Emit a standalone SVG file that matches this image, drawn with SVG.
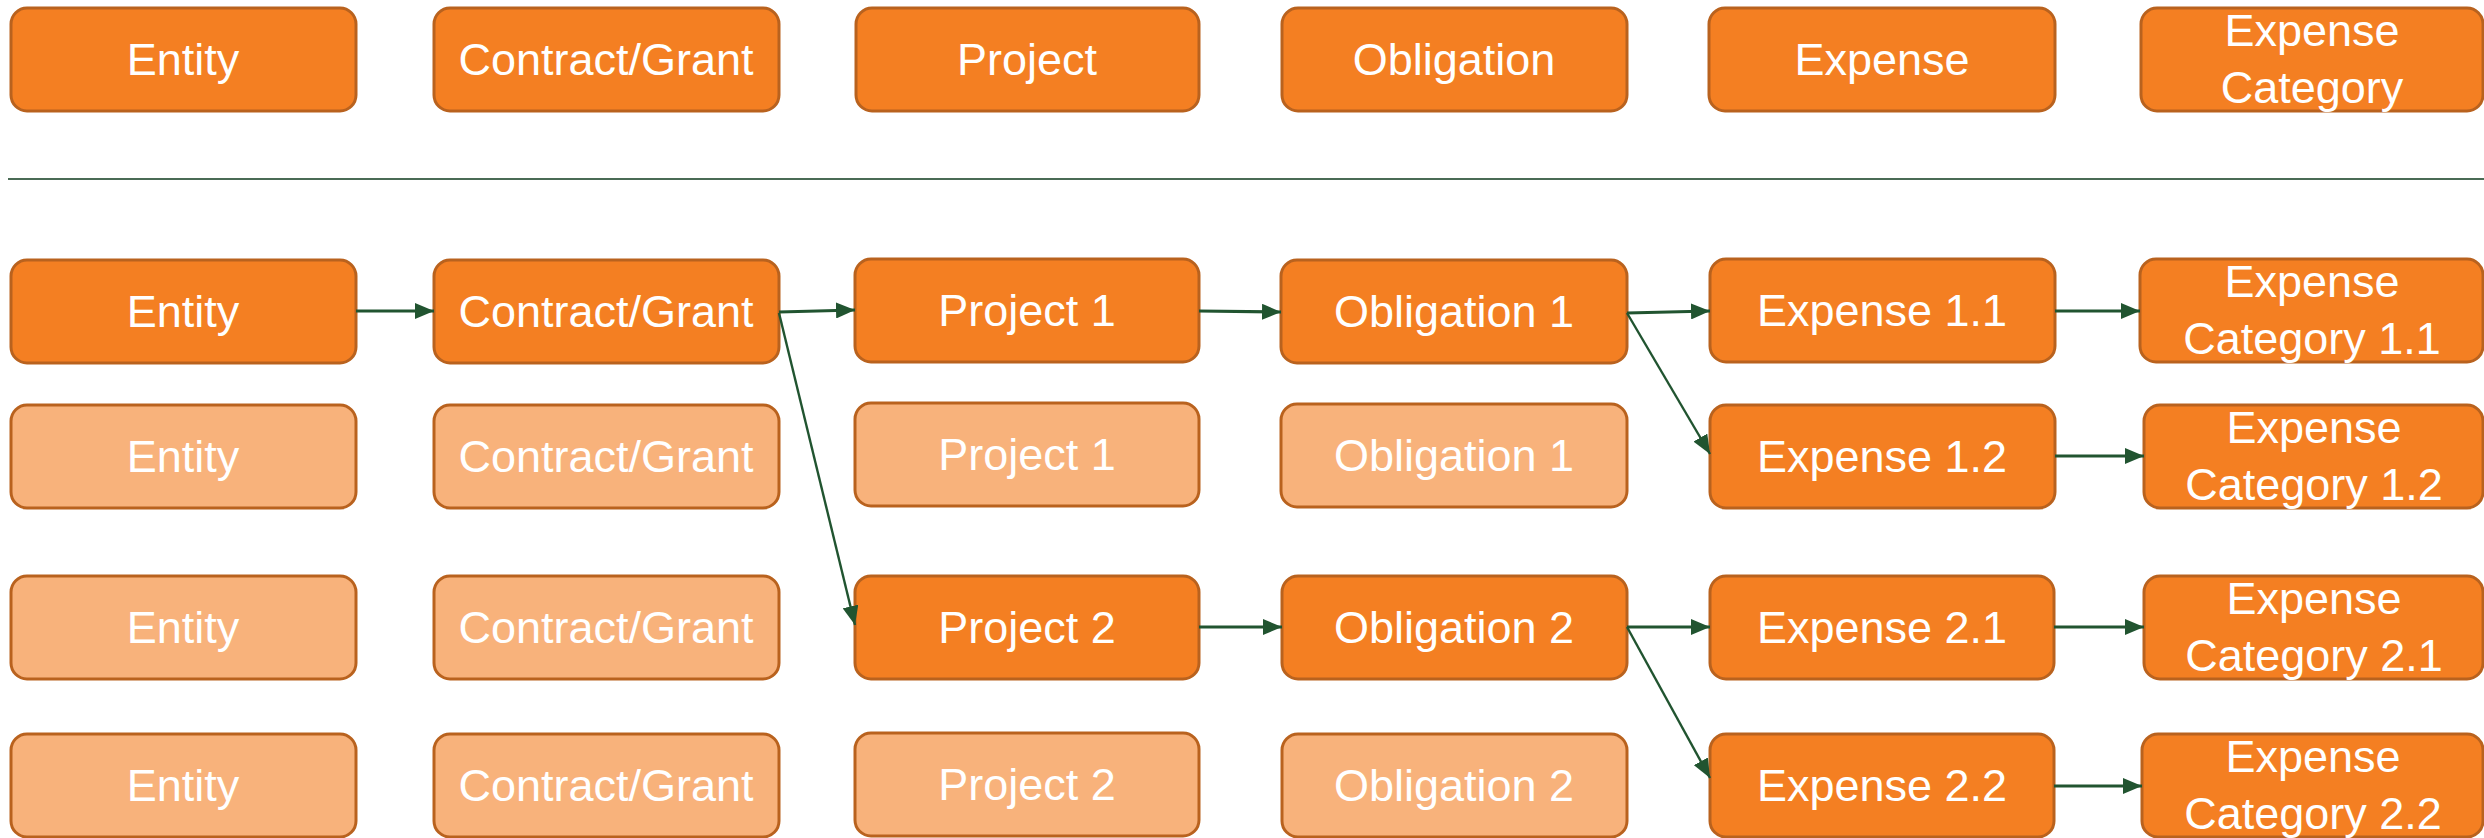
<svg xmlns="http://www.w3.org/2000/svg" width="2484" height="838" viewBox="0 0 2484 838">
<style>
.b{fill:#F47F22;stroke:#B9621E;stroke-width:3}
.f{fill:#F8B27B;stroke:#B9621E;stroke-width:3}
text{font-family:"Liberation Sans",Arial,sans-serif;font-size:45px;fill:#FFFFFF;text-anchor:middle}
.c{stroke:#215430;stroke-width:3.2;fill:none;marker-end:url(#ah)}
.d{stroke:#215430;stroke-width:2.4;fill:none;marker-end:url(#ah)}
</style>
<defs>
<marker id="ah" viewBox="0 0 10 10" refX="10" refY="5" markerWidth="19" markerHeight="16" markerUnits="userSpaceOnUse" orient="auto" preserveAspectRatio="none">
<path d="M0,0 L10,5 L0,10 z" fill="#215430"/>
</marker>
</defs>
<rect width="2484" height="838" fill="#FFFFFF"/>
<!-- header row -->
<g id="h-entity"><rect class="b" x="11" y="8" width="345" height="103" rx="16"/><text x="183" y="75">Entity</text></g>
<g id="h-contract"><rect class="b" x="434" y="8" width="345" height="103" rx="16"/><text x="606" y="75">Contract/Grant</text></g>
<g id="h-project"><rect class="b" x="856" y="8" width="343" height="103" rx="16"/><text x="1027" y="75">Project</text></g>
<g id="h-obligation"><rect class="b" x="1282" y="8" width="345" height="103" rx="16"/><text x="1454" y="75">Obligation</text></g>
<g id="h-expense"><rect class="b" x="1709" y="8" width="346" height="103" rx="16"/><text x="1882" y="75">Expense</text></g>
<g id="h-category"><rect class="b" x="2141" y="8" width="342" height="103" rx="16"/><text x="2312" y="46">Expense</text><text x="2312" y="103">Category</text></g>
<line x1="8" y1="179" x2="2484" y2="179" stroke="#4A6B55" stroke-width="2"/>
<!-- row A -->
<g id="a-entity"><rect class="b" x="11" y="260" width="345" height="103" rx="16"/><text x="183" y="327">Entity</text></g>
<g id="a-contract"><rect class="b" x="434" y="260" width="345" height="103" rx="16"/><text x="606" y="327">Contract/Grant</text></g>
<g id="a-project1"><rect class="b" x="855" y="259" width="344" height="103" rx="16"/><text x="1027" y="326">Project 1</text></g>
<g id="a-obligation1"><rect class="b" x="1281" y="260" width="346" height="103" rx="16"/><text x="1454" y="327">Obligation 1</text></g>
<g id="a-expense11"><rect class="b" x="1710" y="259" width="345" height="103" rx="16"/><text x="1882" y="326">Expense 1.1</text></g>
<g id="a-category11"><rect class="b" x="2140" y="259" width="343" height="103" rx="16"/><text x="2312" y="297">Expense</text><text x="2312" y="354">Category 1.1</text></g>
<!-- row B -->
<g id="b-entity"><rect class="f" x="11" y="405" width="345" height="103" rx="16"/><text x="183" y="472">Entity</text></g>
<g id="b-contract"><rect class="f" x="434" y="405" width="345" height="103" rx="16"/><text x="606" y="472">Contract/Grant</text></g>
<g id="b-project1"><rect class="f" x="855" y="403" width="344" height="103" rx="16"/><text x="1027" y="470">Project 1</text></g>
<g id="b-obligation1"><rect class="f" x="1281" y="404" width="346" height="103" rx="16"/><text x="1454" y="471">Obligation 1</text></g>
<g id="b-expense12"><rect class="b" x="1710" y="405" width="345" height="103" rx="16"/><text x="1882" y="472">Expense 1.2</text></g>
<g id="b-category12"><rect class="b" x="2144" y="405" width="339" height="103" rx="16"/><text x="2314" y="443">Expense</text><text x="2314" y="500">Category 1.2</text></g>
<!-- row C -->
<g id="c-entity"><rect class="f" x="11" y="576" width="345" height="103" rx="16"/><text x="183" y="643">Entity</text></g>
<g id="c-contract"><rect class="f" x="434" y="576" width="345" height="103" rx="16"/><text x="606" y="643">Contract/Grant</text></g>
<g id="c-project2"><rect class="b" x="855" y="576" width="344" height="103" rx="16"/><text x="1027" y="643">Project 2</text></g>
<g id="c-obligation2"><rect class="b" x="1282" y="576" width="345" height="103" rx="16"/><text x="1454" y="643">Obligation 2</text></g>
<g id="c-expense21"><rect class="b" x="1710" y="576" width="344" height="103" rx="16"/><text x="1882" y="643">Expense 2.1</text></g>
<g id="c-category21"><rect class="b" x="2144" y="576" width="339" height="103" rx="16"/><text x="2314" y="614">Expense</text><text x="2314" y="671">Category 2.1</text></g>
<!-- row D -->
<g id="d-entity"><rect class="f" x="11" y="734" width="345" height="103" rx="16"/><text x="183" y="801">Entity</text></g>
<g id="d-contract"><rect class="f" x="434" y="734" width="345" height="103" rx="16"/><text x="606" y="801">Contract/Grant</text></g>
<g id="d-project2"><rect class="f" x="855" y="733" width="344" height="103" rx="16"/><text x="1027" y="800">Project 2</text></g>
<g id="d-obligation2"><rect class="f" x="1282" y="734" width="345" height="103" rx="16"/><text x="1454" y="801">Obligation 2</text></g>
<g id="d-expense22"><rect class="b" x="1710" y="734" width="344" height="103" rx="16"/><text x="1882" y="801">Expense 2.2</text></g>
<g id="d-category22"><rect class="b" x="2142" y="734" width="341" height="103" rx="16"/><text x="2313" y="772">Expense</text><text x="2313" y="829">Category 2.2</text></g>
<!-- connectors -->
<g id="connectors">
<line class="c" x1="356" y1="311" x2="434" y2="311"/>
<line class="c" x1="779" y1="312" x2="855" y2="310"/>
<line class="d" x1="779" y1="313" x2="855" y2="625"/>
<line class="c" x1="1199" y1="311" x2="1281" y2="312"/>
<line class="c" x1="1627" y1="313" x2="1710" y2="311"/>
<line class="d" x1="1627" y1="313" x2="1710" y2="454"/>
<line class="c" x1="1199" y1="627" x2="1282" y2="627"/>
<line class="c" x1="1627" y1="627" x2="1710" y2="627"/>
<line class="d" x1="1627" y1="627" x2="1710" y2="778"/>
<line class="c" x1="2055" y1="311" x2="2140" y2="311"/>
<line class="c" x1="2055" y1="456" x2="2144" y2="456"/>
<line class="c" x1="2054" y1="627" x2="2144" y2="627"/>
<line class="c" x1="2054" y1="786" x2="2142" y2="786"/>
</g>
</svg>
